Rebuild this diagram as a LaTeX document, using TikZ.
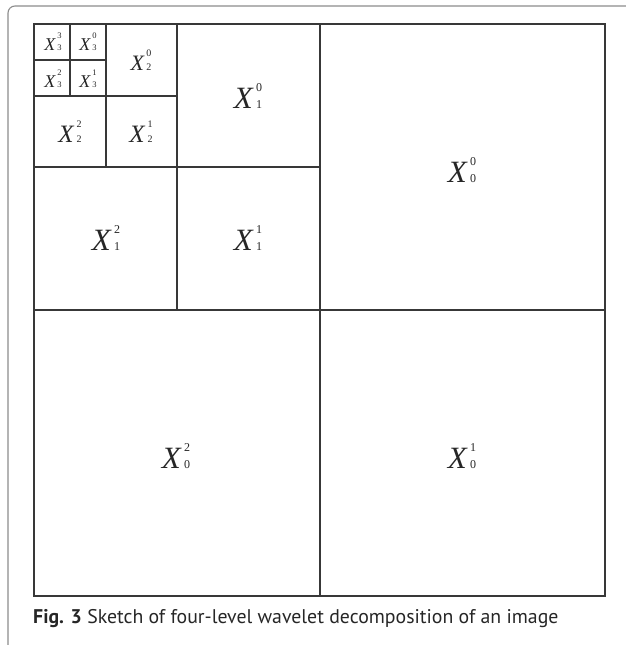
\documentclass[tikz,border=0pt]{standalone}
\usepackage{fontspec}
\setmainfont{Liberation Serif}
\newfontfamily\capfont{PT Sans}
% #1 X size, #2 script size, #3 script baseline distance, #4 sup, #5 sub
\newcommand\wl[5]{{\fontsize{#1pt}{#1pt}\selectfont\textit{X}\kern0.08em\vbox{\fontsize{#2pt}{#3pt}\selectfont\hbox{#4}\hbox{#5}}}}
\begin{document}
\begin{tikzpicture}[x=1pt,y=-1pt,
  frame/.style={draw=black!45,line width=1.1pt},
  grid/.style={draw=black!78,line width=1.3pt},
  lbl/.style={inner sep=0pt,text=black!85}]
\useasboundingbox (0,0) rectangle (626,645);
% outer frame
\draw[frame,rounded corners=7pt] (626,6) -- (8,6) -- (8,645);
% square
\coordinate (tl) at (34,24);
\coordinate (br) at (605,596);
\draw[grid] (tl) rectangle (br);
\draw[grid] (320,24) -- (320,596);
\draw[grid] (34,310) -- (605,310);
\draw[grid] (177,24) -- (177,310);
\draw[grid] (34,167) -- (320,167);
\draw[grid] (106,24) -- (106,167);
\draw[grid] (34,96) -- (177,96);
\draw[grid] (70,24) -- (70,96);
\draw[grid] (34,60) -- (106,60);
% labels
\node[lbl] (x33) at (53,42) {\wl{18}{8.5}{12}{3}{3}};
\node[lbl] (x30) at (88,42) {\wl{18}{8.5}{12}{0}{3}};
\node[lbl] (x32) at (53,79) {\wl{18}{8.5}{12}{2}{3}};
\node[lbl] (x31) at (88,79) {\wl{18}{8.5}{12}{1}{3}};
\node[lbl] (x20) at (141,60) {\wl{22}{10}{14}{0}{2}};
\node[lbl] (x22) at (70,132) {\wl{25}{10}{15}{2}{2}};
\node[lbl] (x21) at (141,132) {\wl{25}{10}{15}{1}{2}};
\node[lbl] (x10) at (248,96) {\wl{31}{12}{17.5}{0}{1}};
\node[lbl] (x12) at (106,238) {\wl{31}{12}{17.5}{2}{1}};
\node[lbl] (x11) at (248,238) {\wl{31}{12}{17.5}{1}{1}};
\node[lbl] (x00) at (462,170) {\wl{31}{12}{17.5}{0}{0}};
\node[lbl] (x02) at (176,456) {\wl{31}{12}{17.5}{2}{0}};
\node[lbl] (x01) at (462,456) {\wl{31}{12}{17.5}{1}{0}};
% caption
\node[anchor=base west,inner sep=0pt,font=\capfont\fontsize{19.8pt}{22pt}\selectfont,text=black!85] (cap) at (33,623) {\textbf{Fig. 3} Sketch of four-level wavelet decomposition of an image};
\end{tikzpicture}
\end{document}
